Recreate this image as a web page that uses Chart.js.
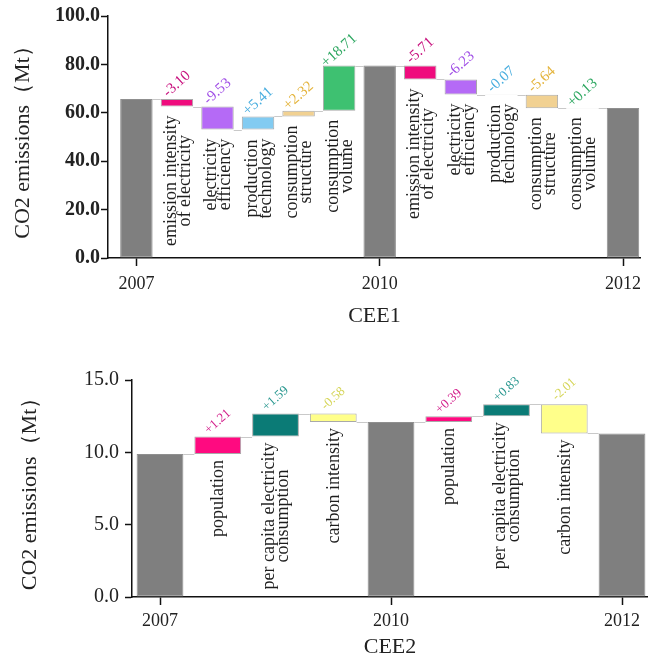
<!DOCTYPE html>
<html>
<head>
<meta charset="utf-8">
<script src="https://cdn.jsdelivr.net/npm/chart.js@4.4.1/dist/chart.umd.min.js"></script>
<style>
  body { margin: 0; background: #fff; }
  canvas { display: block; }
</style>
</head>
<body>
<canvas id="cee1" width="648" height="345"></canvas>
<canvas id="cee2" width="648" height="316"></canvas>
<script>
// ---- CEE1 data
const cee1Years = ['2007', '2010', '2012'];
const cee1Totals = [65.7, 79.5, 62.0];
const cee1Factors = [
  ['emission intensity', 'of electricity'],
  ['electricity', 'efficiency'],
  ['production', 'technology'],
  ['consumption', 'structure'],
  ['consumption', 'volume']
];
const cee1Effects0710 = [-3.10, -9.53, 5.41, 2.32, 18.71];
const cee1Effects1012 = [-5.71, -6.23, -0.07, -5.64, 0.13];
const cee1Fills = ['#ef0b7d', '#b56af6', '#82cbf1', '#f1d192', '#3ec171'];
const cee1TextColors = ['#c8137f', '#a150e6', '#4aaedf', '#e4b43c', '#2fa862'];
const cee1YTicks = [0, 20, 40, 60, 80, 100];

// ---- CEE2 data
const cee2Years = ['2007', '2010', '2012'];
const cee2Totals = [9.88, 12.1, 11.31];
const cee2Factors = [
  ['population'],
  ['per capita electricity', 'consumption'],
  ['carbon intensity']
];
const cee2Effects0710 = [1.21, 1.59, -0.58];
const cee2Effects1012 = [0.39, 0.83, -2.01];
const cee2Fills = ['#ff0a80', '#0b7b76', '#ffff8a'];
const cee2TextColors = ['#d3208c', '#2a9890', '#d6d65a'];
const cee2YTicks = [0, 5, 10, 15];

const serif = 'Liberation Serif';

// build floating bars for a waterfall: total, effects, total, effects, total
function waterfall(totals, effA, effB, factors, fills, textColors) {
  const bars = [];
  const yearIdx = [];
  function addTotal(v) {
    yearIdx.push(bars.length);
    bars.push({ x: bars.length, y: [0, v], total: true, end: v, fill: '#7f7f7f' });
  }
  function addEffects(start, effs) {
    let level = start;
    effs.forEach((d, i) => {
      bars.push({
        x: bars.length, y: [level, level + d], end: level + d,
        fill: fills[i], textColor: textColors[i], lines: factors[i],
        text: (d > 0 ? '+' : '') + d.toFixed(2)
      });
      level += d;
    });
  }
  addTotal(totals[0]);
  addEffects(totals[0], effA);
  addTotal(totals[1]);
  addEffects(totals[1], effB);
  addTotal(totals[2]);
  return { bars, yearIdx };
}

// connectors, value labels and factor names
const decor = {
  id: 'decor',
  beforeDatasetsDraw(chart) {
    const ctx = chart.ctx;
    const bars = chart.data.datasets[0].data;
    const els = chart.getDatasetMeta(0).data;
    const y = chart.scales.y;
    ctx.save();
    ctx.strokeStyle = '#c9c9c9';
    ctx.lineWidth = 1;
    for (let i = 0; i < els.length - 1; i++) {
      const py = Math.round(y.getPixelForValue(bars[i].end)) + 0.5;
      ctx.beginPath();
      ctx.moveTo(els[i].x + els[i].width / 2, py);
      ctx.lineTo(els[i + 1].x - els[i + 1].width / 2, py);
      ctx.stroke();
    }
    ctx.restore();
  },
  afterDatasetsDraw(chart, args, opts) {
    const ctx = chart.ctx;
    const bars = chart.data.datasets[0].data;
    const els = chart.getDatasetMeta(0).data;
    ctx.save();
    els.forEach((el, i) => {
      const b = bars[i];
      if (b.total) return;
      const top = Math.min(el.y, el.base);
      const bottom = Math.max(el.y, el.base);
      // value label
      ctx.save();
      ctx.translate(el.x, top - opts.valueOffset);
      ctx.rotate(-42 * Math.PI / 180);
      ctx.font = opts.valueSize + 'px "' + serif + '"';
      ctx.fillStyle = b.textColor;
      ctx.textAlign = 'center';
      ctx.textBaseline = 'middle';
      ctx.fillText(b.text, 0, 0);
      ctx.restore();
      // factor name, vertical
      ctx.font = '18px "' + serif + '"';
      ctx.fillStyle = '#1e1e1e';
      ctx.textAlign = 'center';
      ctx.textBaseline = 'middle';
      const w = Math.max(...b.lines.map(t => ctx.measureText(t).width));
      const cy = bottom + opts.nameGap + w / 2;
      b.lines.forEach((t, j) => {
        ctx.save();
        ctx.translate(el.x + (j - (b.lines.length - 1) / 2) * 14 + 1, cy);
        ctx.rotate(-Math.PI / 2);
        ctx.fillText(t, 0, 0);
        ctx.restore();
      });
    });
    ctx.restore();
  }
};

function makeChart(id, o) {
  const wf = waterfall(o.totals, o.effA, o.effB, o.factors, o.fills, o.textColors);
  return new Chart(document.getElementById(id), {
    type: 'bar',
    data: {
      datasets: [{
        data: wf.bars,
        backgroundColor: wf.bars.map(b => b.fill),
        borderColor: wf.bars.map(b => b.total ? '#8f8f8f' : '#a9a9a9'),
        borderWidth: 1,
        borderSkipped: false,
        barPercentage: 1,
        categoryPercentage: o.barFrac
      }]
    },
    options: {
      responsive: false,
      animation: false,
      layout: { padding: { top: o.padTop, left: 0, right: 0, bottom: 0 } },
      plugins: {
        legend: { display: false },
        tooltip: { enabled: false },
        decor: { valueOffset: 15, valueSize: o.valueSize, nameGap: o.nameGap }
      },
      scales: {
        x: {
          type: 'linear',
          offset: false,
          min: o.xMin,
          max: o.xMax,
          afterBuildTicks: s => { s.ticks = wf.yearIdx.map(v => ({ value: v })); },
          afterFit: s => { s.height = o.xHeight; },
          ticks: {
            callback: (v, i) => o.years[i],
            font: { family: serif, size: 18 },
            color: '#222',
            padding: o.xTickPad,
            maxRotation: 0
          },
          grid: { offset: false, drawOnChartArea: false, tickLength: 8, tickColor: '#111', tickWidth: 1.5 },
          border: { color: '#111', width: 1.5 },
          title: {
            display: true, text: o.xTitle, color: '#222',
            font: { family: serif, size: 22 },
            padding: { top: 0, bottom: o.xTitlePad }
          }
        },
        y: {
          min: 0,
          max: o.yTicks[o.yTicks.length - 1],
          afterBuildTicks: s => { s.ticks = o.yTicks.map(v => ({ value: v })); },
          afterFit: s => { s.width = o.yWidth; },
          ticks: {
            callback: v => v.toFixed(1),
            font: { family: serif, size: 20, weight: o.yBold ? 'bold' : 'normal' },
            color: '#222',
            padding: o.yTickPad
          },
          grid: { drawOnChartArea: false, tickLength: 7, tickColor: '#111', tickWidth: 1.5 },
          border: { color: '#111', width: 1.5 },
          title: {
            display: true, text: 'CO2 emissions（Mt）', color: '#222',
            font: { family: serif, size: 22 },
            padding: { top: o.yTitlePad, bottom: 0 }
          }
        }
      }
    },
    plugins: [decor]
  });
}

makeChart('cee1', {
  totals: cee1Totals, effA: cee1Effects0710, effB: cee1Effects1012,
  factors: cee1Factors, fills: cee1Fills, textColors: cee1TextColors,
  years: cee1Years, yTicks: cee1YTicks, xTitle: 'CEE1',
  barFrac: 0.8, xMin: -0.7, xMax: 12.44,
  padTop: 16, xHeight: 87, yWidth: 108, xTitlePad: 16, xTickPad: 7,
  yBold: true, yTickPad: 1, yTitlePad: 10,
  valueSize: 15, nameGap: 9
});

makeChart('cee2', {
  totals: cee2Totals, effA: cee2Effects0710, effB: cee2Effects1012,
  factors: cee2Factors, fills: cee2Fills, textColors: cee2TextColors,
  years: cee2Years, yTicks: cee2YTicks, xTitle: 'CEE2',
  barFrac: 0.81, xMin: -0.485, xMax: 8.45,
  padTop: 35, xHeight: 64, yWidth: 132, xTitlePad: 1, xTickPad: 5,
  yBold: false, yTickPad: 6, yTitlePad: 17,
  valueSize: 13, nameGap: 6
});
</script>
</body>
</html>
